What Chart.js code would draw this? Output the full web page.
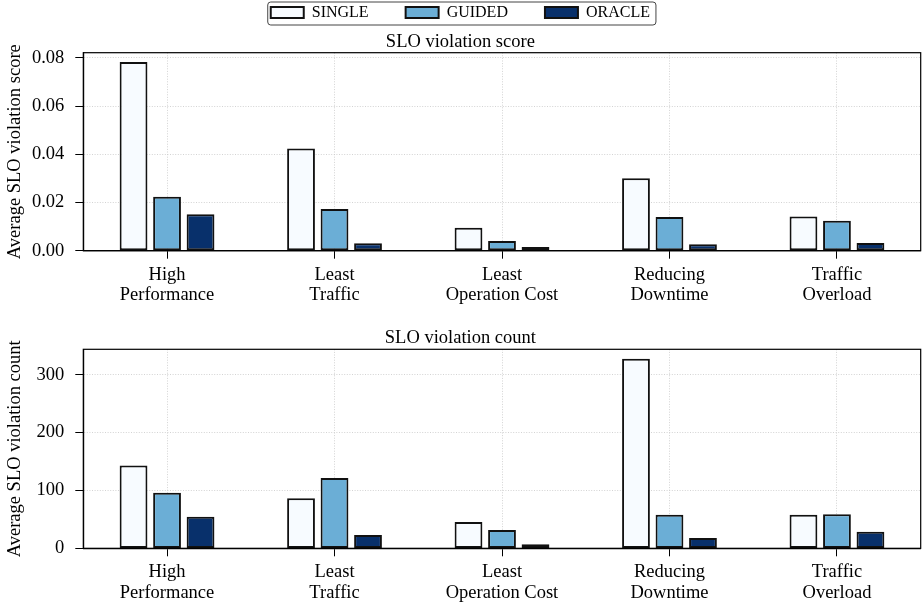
<!DOCTYPE html>
<html>
<head>
<meta charset="utf-8">
<script src="https://cdn.jsdelivr.net/npm/chart.js@4.4.0/dist/chart.umd.min.js"></script>
<style>
  body { margin: 0; background: #fff; }
  canvas { display: block; }
</style>
</head>
<body>
<canvas id="scoreChart" width="922" height="308"></canvas>
<canvas id="countChart" width="922" height="300"></canvas>
<script>
// Dados
const categories = [
    ['High', 'Performance'],
    ['Least', 'Traffic'],
    ['Least', 'Operation Cost'],
    ['Reducing', 'Downtime'],
    ['Traffic', 'Overload']
];
const seriesNames = ['SINGLE', 'GUIDED', 'ORACLE'];
const seriesColors = ['#f7fbff', '#6baed6', '#08306b'];

const scoreSingle = [0.0783, 0.0424, 0.0095, 0.0301, 0.0142];
const scoreGuided = [0.0224, 0.0173, 0.0040, 0.0140, 0.0124];
const scoreOracle = [0.0151, 0.0031, 0.0015, 0.0027, 0.0032];

const countSingle = [143, 86.5, 45.5, 327.5, 58];
const countGuided = [96, 121.5, 31.5, 58, 58.8];
const countOracle = [54.5, 23, 7, 17.8, 28.7];

const scoreTicks = [0, 0.02, 0.04, 0.06, 0.08];
const countTicks = [0, 100, 200, 300];

const FONT = "'Liberation Serif', 'Times New Roman', serif";

// moldura completa + caixa da legenda
const framePlugin = {
    id: 'frame',
    afterDraw(chart) {
        const ctx = chart.ctx;
        const a = chart.chartArea;
        ctx.save();
        ctx.strokeStyle = '#000';
        ctx.lineWidth = 1.2;
        ctx.strokeRect(a.left, a.top, a.right - a.left, a.bottom - a.top);
        const lg = chart.legend;
        if (lg && lg.options.display && lg.legendHitBoxes && lg.legendHitBoxes.length) {
            const hb = lg.legendHitBoxes;
            const first = hb[0];
            const last = hb[hb.length - 1];
            const x = first.left - 3;
            const y = first.top - 2.4;
            const w = last.left + last.width + 6 - x;
            ctx.beginPath();
            ctx.roundRect(x, y, w, 23, 3);
            ctx.strokeStyle = '#444';
            ctx.lineWidth = 1;
            ctx.stroke();
        }
        ctx.restore();
    }
};

function buildDatasets(values) {
    return values.map((data, i) => ({
        label: seriesNames[i],
        data: data,
        backgroundColor: seriesColors[i],
        borderColor: '#111',
        borderWidth: 2,
        borderSkipped: false,
        categoryPercentage: 0.6,
        barPercentage: 0.83
    }));
}

function gerarGrafico(id, cfg) {
    const ctx = document.getElementById(id).getContext('2d');
    return new Chart(ctx, {
        type: 'bar',
        data: {
            labels: categories,
            datasets: buildDatasets(cfg.values)
        },
        plugins: [framePlugin],
        options: {
            responsive: false,
            animation: false,
            devicePixelRatio: 1,
            layout: {
                padding: { top: cfg.padTop, left: 0, right: 1.3, bottom: 0 }
            },
            plugins: {
                tooltip: { enabled: false },
                legend: {
                    display: cfg.legend,
                    position: 'top',
                    weight: 3000,
                    maxHeight: 58.9,
                    labels: {
                        color: '#000',
                        boxWidth: 33,
                        boxHeight: 11,
                        padding: 37,
                        font: { family: FONT, size: 16 }
                    }
                },
                title: {
                    display: true,
                    text: cfg.title,
                    color: '#000',
                    weight: 2000,
                    font: { family: FONT, size: 18.5, weight: 'normal', lineHeight: 1.0 },
                    padding: { top: cfg.titleTop, bottom: 1.75 }
                }
            },
            scales: {
                x: {
                    offset: true,
                    afterFit: s => { s.height = cfg.xHeight; },
                    grid: {
                        offset: false,
                        color: '#c8c8c8',
                        lineWidth: 0.8,
                        tickColor: '#000',
                        tickWidth: 1,
                        tickLength: 8,
                        tickBorderDash: []
                    },
                    border: { color: '#000', width: 1.2, dash: [1, 1.6] },
                    ticks: {
                        color: '#000',
                        padding: 6,
                        maxRotation: 0,
                        autoSkip: false,
                        font: { family: FONT, size: 18.5, lineHeight: 1.1 }
                    }
                },
                y: {
                    min: 0,
                    max: cfg.yMax,
                    afterFit: s => { s.width = 83.3; },
                    afterBuildTicks: s => { s.ticks = cfg.ticks.map(v => ({ value: v })); },
                    grid: {
                        color: '#c8c8c8',
                        lineWidth: 0.8,
                        tickColor: '#000',
                        tickWidth: 1,
                        tickLength: 8,
                        tickBorderDash: []
                    },
                    border: { color: '#000', width: 1.2, dash: [1, 1.6] },
                    ticks: {
                        color: '#000',
                        padding: 11,
                        includeBounds: false,
                        callback: cfg.fmt,
                        font: { family: FONT, size: 18.5 }
                    },
                    title: {
                        display: true,
                        text: cfg.yTitle,
                        color: '#000',
                        padding: { top: 4, bottom: 0 },
                        font: { family: FONT, size: 18.5 }
                    }
                }
            }
        }
    });
}

gerarGrafico('scoreChart', {
    values: [scoreSingle, scoreGuided, scoreOracle],
    title: 'SLO violation score',
    yTitle: 'Average SLO violation score',
    ticks: scoreTicks,
    yMax: 0.0822,
    fmt: v => v.toFixed(2),
    legend: true,
    padTop: -32.6,
    titleTop: 6.15,
    xHeight: 57.3
});

gerarGrafico('countChart', {
    values: [countSingle, countGuided, countOracle],
    title: 'SLO violation count',
    yTitle: 'Average SLO violation count',
    ticks: countTicks,
    yMax: 344,
    fmt: v => String(v),
    legend: false,
    padTop: 0,
    titleTop: 21.05,
    xHeight: 59.7
});
</script>
</body>
</html>
